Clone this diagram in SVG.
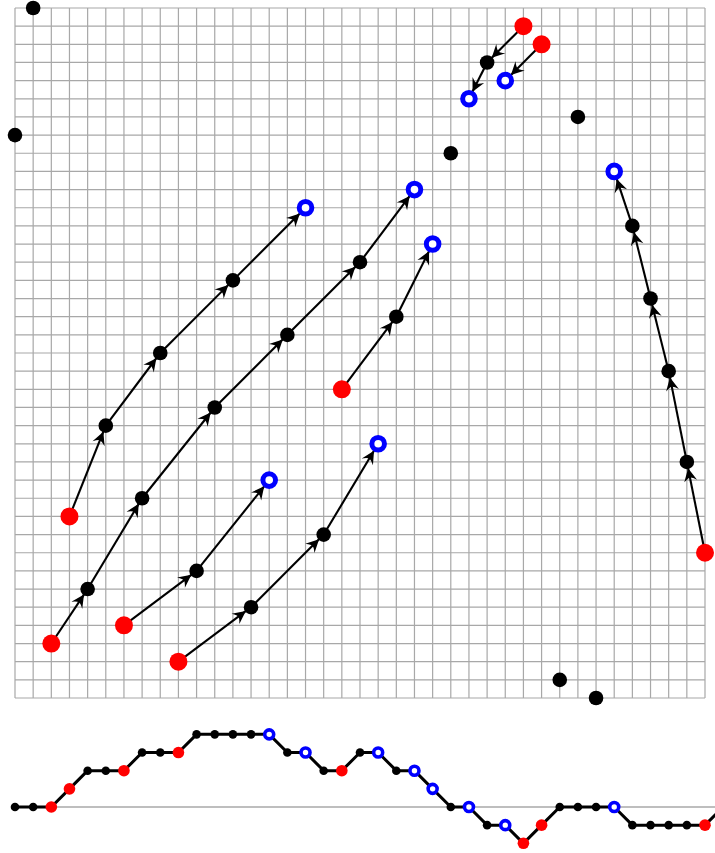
<svg xmlns="http://www.w3.org/2000/svg" width="715" height="853" viewBox="0 0 715 853">
<style>
.grid{stroke:#a8a8a8;stroke-width:1.2;fill:none}
.edge{stroke:#000;stroke-width:2.1;fill:none}
.blk{fill:#000}
.red{fill:#ff0000}
.blu{fill:#fff;stroke:#0000ff;stroke-width:5}
.sblk{fill:#000}
.sred{fill:#ff0000}
.sblu{fill:#fff;stroke:#0000ff;stroke-width:3.6}
.base{stroke:#a8a8a8;stroke-width:1.5}
.walk{stroke:#000;stroke-width:3;fill:none;stroke-linejoin:round}
</style>
<defs>
<marker id="ahk" markerUnits="userSpaceOnUse" orient="auto" overflow="visible" markerWidth="1" markerHeight="1" refX="0" refY="0">
<path d="M-6.5,0 L-19.5,-6.5 Q-15.5,-1.5 -16,0 Q-15.5,1.5 -19.5,6.5 Z" fill="#000"/>
</marker>
<marker id="ahb" markerUnits="userSpaceOnUse" orient="auto" overflow="visible" markerWidth="1" markerHeight="1" refX="0" refY="0">
<path d="M-8,0 L-21,-6.5 Q-17,-1.5 -17.5,0 Q-17,1.5 -21,6.5 Z" fill="#000"/>
</marker>
</defs>
<rect width="715" height="853" fill="#fff"/>
<g id="grid">
<path class="grid" d="M15,8V698M33.16,8V698M51.32,8V698M69.47,8V698M87.63,8V698M105.79,8V698M123.95,8V698M142.11,8V698M160.26,8V698M178.42,8V698M196.58,8V698M214.74,8V698M232.89,8V698M251.05,8V698M269.21,8V698M287.37,8V698M305.53,8V698M323.68,8V698M341.84,8V698M360,8V698M378.16,8V698M396.32,8V698M414.47,8V698M432.63,8V698M450.79,8V698M468.95,8V698M487.11,8V698M505.26,8V698M523.42,8V698M541.58,8V698M559.74,8V698M577.89,8V698M596.05,8V698M614.21,8V698M632.37,8V698M650.53,8V698M668.68,8V698M686.84,8V698M705,8V698
M15,8H705M15,26.16H705M15,44.32H705M15,62.47H705M15,80.63H705M15,98.79H705M15,116.95H705M15,135.11H705M15,153.26H705M15,171.42H705M15,189.58H705M15,207.74H705M15,225.89H705M15,244.05H705M15,262.21H705M15,280.37H705M15,298.53H705M15,316.68H705M15,334.84H705M15,353H705M15,371.16H705M15,389.32H705M15,407.47H705M15,425.63H705M15,443.79H705M15,461.95H705M15,480.11H705M15,498.26H705M15,516.42H705M15,534.58H705M15,552.74H705M15,570.89H705M15,589.05H705M15,607.21H705M15,625.37H705M15,643.53H705M15,661.68H705M15,679.84H705M15,698H705"/>
</g>
<g id="connectors">
<line class="edge" x1="523.42" y1="26.16" x2="487.11" y2="62.47" marker-end="url(#ahk)"/>
<line class="edge" x1="487.11" y1="62.47" x2="468.95" y2="98.79" marker-end="url(#ahb)"/>
<line class="edge" x1="541.58" y1="44.32" x2="505.26" y2="80.63" marker-end="url(#ahb)"/>
<line class="edge" x1="705" y1="552.74" x2="686.84" y2="461.95" marker-end="url(#ahk)"/>
<line class="edge" x1="686.84" y1="461.95" x2="668.68" y2="371.16" marker-end="url(#ahk)"/>
<line class="edge" x1="668.68" y1="371.16" x2="650.53" y2="298.53" marker-end="url(#ahk)"/>
<line class="edge" x1="650.53" y1="298.53" x2="632.37" y2="225.89" marker-end="url(#ahk)"/>
<line class="edge" x1="632.37" y1="225.89" x2="614.21" y2="171.42" marker-end="url(#ahb)"/>
<line class="edge" x1="69.47" y1="516.42" x2="105.79" y2="425.63" marker-end="url(#ahk)"/>
<line class="edge" x1="105.79" y1="425.63" x2="160.26" y2="353" marker-end="url(#ahk)"/>
<line class="edge" x1="160.26" y1="353" x2="232.89" y2="280.37" marker-end="url(#ahk)"/>
<line class="edge" x1="232.89" y1="280.37" x2="305.53" y2="207.74" marker-end="url(#ahb)"/>
<line class="edge" x1="51.32" y1="643.53" x2="87.63" y2="589.05" marker-end="url(#ahk)"/>
<line class="edge" x1="87.63" y1="589.05" x2="142.11" y2="498.26" marker-end="url(#ahk)"/>
<line class="edge" x1="142.11" y1="498.26" x2="214.74" y2="407.47" marker-end="url(#ahk)"/>
<line class="edge" x1="214.74" y1="407.47" x2="287.37" y2="334.84" marker-end="url(#ahk)"/>
<line class="edge" x1="287.37" y1="334.84" x2="360" y2="262.21" marker-end="url(#ahk)"/>
<line class="edge" x1="360" y1="262.21" x2="414.47" y2="189.58" marker-end="url(#ahb)"/>
<line class="edge" x1="341.84" y1="389.32" x2="396.32" y2="316.68" marker-end="url(#ahk)"/>
<line class="edge" x1="396.32" y1="316.68" x2="432.63" y2="244.05" marker-end="url(#ahb)"/>
<line class="edge" x1="123.95" y1="625.37" x2="196.58" y2="570.89" marker-end="url(#ahk)"/>
<line class="edge" x1="196.58" y1="570.89" x2="269.21" y2="480.11" marker-end="url(#ahb)"/>
<line class="edge" x1="178.42" y1="661.68" x2="251.05" y2="607.21" marker-end="url(#ahk)"/>
<line class="edge" x1="251.05" y1="607.21" x2="323.68" y2="534.58" marker-end="url(#ahk)"/>
<line class="edge" x1="323.68" y1="534.58" x2="378.16" y2="443.79" marker-end="url(#ahb)"/>
</g>
<g id="nodes">
<g id="n0"><circle class="blk" cx="15" cy="135.11" r="7.3"/></g>
<g id="n1"><circle class="blk" cx="33.16" cy="8" r="7.3"/></g>
<g id="n2"><circle class="red" cx="51.32" cy="643.53" r="9"/></g>
<g id="n3"><circle class="red" cx="69.47" cy="516.42" r="9"/></g>
<g id="n4"><circle class="blk" cx="87.63" cy="589.05" r="7.3"/></g>
<g id="n5"><circle class="blk" cx="105.79" cy="425.63" r="7.3"/></g>
<g id="n6"><circle class="red" cx="123.95" cy="625.37" r="9"/></g>
<g id="n7"><circle class="blk" cx="142.11" cy="498.26" r="7.3"/></g>
<g id="n8"><circle class="blk" cx="160.26" cy="353" r="7.3"/></g>
<g id="n9"><circle class="red" cx="178.42" cy="661.68" r="9"/></g>
<g id="n10"><circle class="blk" cx="196.58" cy="570.89" r="7.3"/></g>
<g id="n11"><circle class="blk" cx="214.74" cy="407.47" r="7.3"/></g>
<g id="n12"><circle class="blk" cx="232.89" cy="280.37" r="7.3"/></g>
<g id="n13"><circle class="blk" cx="251.05" cy="607.21" r="7.3"/></g>
<g id="n14"><circle class="blu" cx="269.21" cy="480.11" r="6.3"/></g>
<g id="n15"><circle class="blk" cx="287.37" cy="334.84" r="7.3"/></g>
<g id="n16"><circle class="blu" cx="305.53" cy="207.74" r="6.3"/></g>
<g id="n17"><circle class="blk" cx="323.68" cy="534.58" r="7.3"/></g>
<g id="n18"><circle class="red" cx="341.84" cy="389.32" r="9"/></g>
<g id="n19"><circle class="blk" cx="360" cy="262.21" r="7.3"/></g>
<g id="n20"><circle class="blu" cx="378.16" cy="443.79" r="6.3"/></g>
<g id="n21"><circle class="blk" cx="396.32" cy="316.68" r="7.3"/></g>
<g id="n22"><circle class="blu" cx="414.47" cy="189.58" r="6.3"/></g>
<g id="n23"><circle class="blu" cx="432.63" cy="244.05" r="6.3"/></g>
<g id="n24"><circle class="blk" cx="450.79" cy="153.26" r="7.3"/></g>
<g id="n25"><circle class="blu" cx="468.95" cy="98.79" r="6.3"/></g>
<g id="n26"><circle class="blk" cx="487.11" cy="62.47" r="7.3"/></g>
<g id="n27"><circle class="blu" cx="505.26" cy="80.63" r="6.3"/></g>
<g id="n28"><circle class="red" cx="523.42" cy="26.16" r="9"/></g>
<g id="n29"><circle class="red" cx="541.58" cy="44.32" r="9"/></g>
<g id="n30"><circle class="blk" cx="559.74" cy="679.84" r="7.3"/></g>
<g id="n31"><circle class="blk" cx="577.89" cy="116.95" r="7.3"/></g>
<g id="n32"><circle class="blk" cx="596.05" cy="698" r="7.3"/></g>
<g id="n33"><circle class="blu" cx="614.21" cy="171.42" r="6.3"/></g>
<g id="n34"><circle class="blk" cx="632.37" cy="225.89" r="7.3"/></g>
<g id="n35"><circle class="blk" cx="650.53" cy="298.53" r="7.3"/></g>
<g id="n36"><circle class="blk" cx="668.68" cy="371.16" r="7.3"/></g>
<g id="n37"><circle class="blk" cx="686.84" cy="461.95" r="7.3"/></g>
<g id="n38"><circle class="red" cx="705" cy="552.74" r="9"/></g>
</g>
<g id="walk">
<line class="base" x1="15" y1="807" x2="715" y2="807"/>
<polyline class="walk" points="15,807 33.16,807 51.32,807 69.47,788.84 87.63,770.68 105.79,770.68 123.95,770.68 142.11,752.53 160.26,752.53 178.42,752.53 196.58,734.37 214.74,734.37 232.89,734.37 251.05,734.37 269.21,734.37 287.37,752.53 305.53,752.53 323.68,770.68 341.84,770.68 360,752.53 378.16,752.53 396.32,770.68 414.47,770.68 432.63,788.84 450.79,807 468.95,807 487.11,825.16 505.26,825.16 523.42,843.32 541.58,825.16 559.74,807 577.89,807 596.05,807 614.21,807 632.37,825.16 650.53,825.16 668.68,825.16 686.84,825.16 705,825.16 723.16,807"/>
<g id="b0"><circle class="sblk" cx="15" cy="807" r="4.3"/></g>
<g id="b1"><circle class="sblk" cx="33.16" cy="807" r="4.3"/></g>
<g id="b2"><circle class="sred" cx="51.32" cy="807" r="5.8"/></g>
<g id="b3"><circle class="sred" cx="69.47" cy="788.84" r="5.8"/></g>
<g id="b4"><circle class="sblk" cx="87.63" cy="770.68" r="4.3"/></g>
<g id="b5"><circle class="sblk" cx="105.79" cy="770.68" r="4.3"/></g>
<g id="b6"><circle class="sred" cx="123.95" cy="770.68" r="5.8"/></g>
<g id="b7"><circle class="sblk" cx="142.11" cy="752.53" r="4.3"/></g>
<g id="b8"><circle class="sblk" cx="160.26" cy="752.53" r="4.3"/></g>
<g id="b9"><circle class="sred" cx="178.42" cy="752.53" r="5.8"/></g>
<g id="b10"><circle class="sblk" cx="196.58" cy="734.37" r="4.3"/></g>
<g id="b11"><circle class="sblk" cx="214.74" cy="734.37" r="4.3"/></g>
<g id="b12"><circle class="sblk" cx="232.89" cy="734.37" r="4.3"/></g>
<g id="b13"><circle class="sblk" cx="251.05" cy="734.37" r="4.3"/></g>
<g id="b14"><circle class="sblu" cx="269.21" cy="734.37" r="4.5"/></g>
<g id="b15"><circle class="sblk" cx="287.37" cy="752.53" r="4.3"/></g>
<g id="b16"><circle class="sblu" cx="305.53" cy="752.53" r="4.5"/></g>
<g id="b17"><circle class="sblk" cx="323.68" cy="770.68" r="4.3"/></g>
<g id="b18"><circle class="sred" cx="341.84" cy="770.68" r="5.8"/></g>
<g id="b19"><circle class="sblk" cx="360" cy="752.53" r="4.3"/></g>
<g id="b20"><circle class="sblu" cx="378.16" cy="752.53" r="4.5"/></g>
<g id="b21"><circle class="sblk" cx="396.32" cy="770.68" r="4.3"/></g>
<g id="b22"><circle class="sblu" cx="414.47" cy="770.68" r="4.5"/></g>
<g id="b23"><circle class="sblu" cx="432.63" cy="788.84" r="4.5"/></g>
<g id="b24"><circle class="sblk" cx="450.79" cy="807" r="4.3"/></g>
<g id="b25"><circle class="sblu" cx="468.95" cy="807" r="4.5"/></g>
<g id="b26"><circle class="sblk" cx="487.11" cy="825.16" r="4.3"/></g>
<g id="b27"><circle class="sblu" cx="505.26" cy="825.16" r="4.5"/></g>
<g id="b28"><circle class="sred" cx="523.42" cy="843.32" r="5.8"/></g>
<g id="b29"><circle class="sred" cx="541.58" cy="825.16" r="5.8"/></g>
<g id="b30"><circle class="sblk" cx="559.74" cy="807" r="4.3"/></g>
<g id="b31"><circle class="sblk" cx="577.89" cy="807" r="4.3"/></g>
<g id="b32"><circle class="sblk" cx="596.05" cy="807" r="4.3"/></g>
<g id="b33"><circle class="sblu" cx="614.21" cy="807" r="4.5"/></g>
<g id="b34"><circle class="sblk" cx="632.37" cy="825.16" r="4.3"/></g>
<g id="b35"><circle class="sblk" cx="650.53" cy="825.16" r="4.3"/></g>
<g id="b36"><circle class="sblk" cx="668.68" cy="825.16" r="4.3"/></g>
<g id="b37"><circle class="sblk" cx="686.84" cy="825.16" r="4.3"/></g>
<g id="b38"><circle class="sred" cx="705" cy="825.16" r="5.8"/></g>
</g>
</svg>
